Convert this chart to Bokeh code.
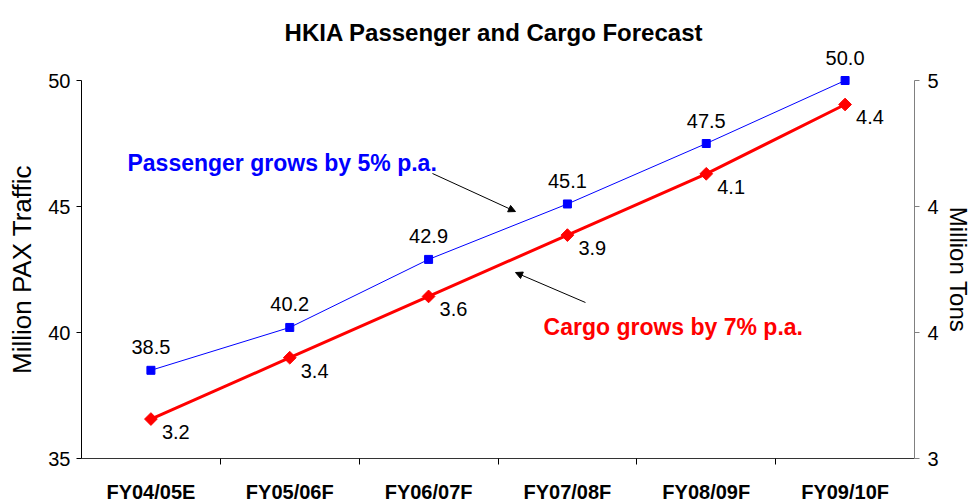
import numpy as np
from bokeh.plotting import figure
from bokeh.models import (Range1d, LinearAxis, FixedTicker, NumeralTickFormatter,
                          Arrow, NormalHead, Label, LabelSet, ColumnDataSource)
from bokeh.core.properties import value
from bokeh.embed import file_html
from bokeh.resources import INLINE

# ---- data ----
categories = ["FY04/05E", "FY05/06F", "FY06/07F", "FY07/08F", "FY08/09F", "FY09/10F"]
passenger = [38.5, 40.2, 42.9, 45.1, 47.5, 50.0]
cargo = [3.18, 3.41, 3.64, 3.87, 4.10, 4.36]
pax_ticks = [35, 40, 45, 50]
tons_ticks = [3, 11 / 3, 13 / 3, 5]
title_text = "HKIA Passenger and Cargo Forecast"
pax_note = "Passenger grows by 5% p.a."
cargo_note = "Cargo grows by 7% p.a."
left_title = "Million PAX Traffic"
right_title = "Million Tons"

FONT = "Liberation Sans"
x = [i + 0.5 for i in range(len(categories))]
boundaries = [i for i in range(1, len(categories))]
n = len(categories)

# axis spans
pax_lo, pax_hi = 35, 50
tons_lo, tons_hi = 3, 5
cargo_lo, cargo_hi = 3.032, 4.45

# layout (canvas pixels): where the axis spans sit inside the drawing
W, H = 971, 502
AX_L, AX_R = 81, 914      # x of first / last category boundary
AX_T, AX_B = 80, 458      # y of top / bottom of the value axes


def vrange(lo, hi):
    k = (hi - lo) / (AX_B - AX_T)
    return Range1d(lo - (H - AX_B) * k, hi + AX_T * k)


kx = n / (AX_R - AX_L)
p = figure(width=W, height=H, output_backend="svg", toolbar_location=None,
           x_range=Range1d(0 - AX_L * kx, n + (W - AX_R) * kx),
           y_range=vrange(pax_lo, pax_hi),
           x_axis_type=None, y_axis_type=None,
           min_border_left=0, min_border_right=0, min_border_top=0, min_border_bottom=0)
p.extra_y_ranges = {"cargo": vrange(cargo_lo, cargo_hi), "tons": vrange(tons_lo, tons_hi)}
p.outline_line_color = None
p.background_fill_color = "white"
p.border_fill_color = "white"
p.title.text = ""
p.title.visible = False

# title
p.add_layout(Label(x=n / 2, y=pax_hi, x_offset=-4, y_offset=48, text=title_text,
                   text_align="center", text_baseline="alphabetic", text_font=FONT,
                   text_font_size="24px", text_font_style="bold", text_color="black"))

# left axis
yl = LinearAxis(ticker=FixedTicker(ticks=pax_ticks), axis_label=left_title,
                bounds=(pax_lo, pax_hi), fixed_location=0)
yl.axis_label_text_font = FONT
yl.axis_label_text_font_size = "26px"
yl.axis_label_text_font_style = "normal"
yl.axis_label_text_color = "black"
yl.axis_label_standoff = 8
yl.major_label_text_font = FONT
yl.major_label_text_font_size = "20px"
yl.major_label_text_color = "black"
yl.major_label_standoff = 6
yl.major_tick_out = 5
yl.major_tick_in = 0
yl.minor_tick_line_color = None
yl.axis_line_color = "black"
yl.major_tick_line_color = "black"
p.add_layout(yl, "left")

# right axis
yr = LinearAxis(y_range_name="tons", ticker=FixedTicker(ticks=tons_ticks),
                formatter=NumeralTickFormatter(format="0"), axis_label=right_title,
                bounds=(tons_lo, tons_hi), fixed_location=n)
yr.axis_label_text_font = FONT
yr.axis_label_text_font_size = "24px"
yr.axis_label_text_font_style = "normal"
yr.axis_label_text_color = "black"
yr.axis_label_standoff = 3
yr.major_label_text_font = FONT
yr.major_label_text_font_size = "20px"
yr.major_label_text_color = "black"
yr.major_label_standoff = 8
yr.major_tick_out = 5
yr.major_tick_in = 0
yr.minor_tick_line_color = None
yr.axis_line_color = "#808080"
yr.major_tick_line_color = "#808080"
p.add_layout(yr, "right")

# bottom axis: ticks at category boundaries, category names centred
xb = LinearAxis(ticker=FixedTicker(ticks=x, minor_ticks=boundaries),
                bounds=(0, n), fixed_location=pax_lo)
xb.major_label_overrides = {xi: c for xi, c in zip(x, categories)}
xb.major_label_text_font = FONT
xb.major_label_text_font_size = "20px"
xb.major_label_text_font_style = "bold"
xb.major_label_text_color = "black"
xb.major_label_standoff = 16
xb.major_tick_line_color = None
xb.major_tick_out = 0
xb.major_tick_in = 0
xb.minor_tick_out = 6
xb.minor_tick_in = 0
xb.minor_tick_line_color = "black"
xb.axis_line_color = "#333333"
p.add_layout(xb, "below")

# series
p.line(x, passenger, color="#0000FF", line_width=1)
p.scatter(x, passenger, marker="square", size=8, color="#0000FF")
p.line(x, cargo, y_range_name="cargo", color="#FF0000", line_width=3)
p.scatter(x, cargo, y_range_name="cargo", marker="square", angle=np.pi / 4,
          size=9, color="#FF0000")

src_p = ColumnDataSource(dict(x=x, y=passenger, t=[f"{v:.1f}" for v in passenger]))
src_c = ColumnDataSource(dict(x=x, y=cargo, t=[f"{v:.1f}" for v in cargo]))
p.add_layout(LabelSet(x="x", y="y", text="t", source=src_p, text_align="center",
                      text_baseline="alphabetic", y_offset=16, text_font=value(FONT),
                      text_font_size="20px", text_color="black"))
p.add_layout(LabelSet(x="x", y="y", text="t", source=src_c, y_range_name="cargo",
                      text_align="left", text_baseline="alphabetic", x_offset=11,
                      y_offset=-20, text_font=value(FONT), text_font_size="20px",
                      text_color="black"))

# annotations
p.add_layout(Label(x=0.331, y=46.71, text=pax_note, text_font=FONT,
                   text_font_size="23px", text_font_style="bold", text_color="#0000FF",
                   text_baseline="alphabetic"))
p.add_layout(Label(x=3.328, y=40.2, text=cargo_note, text_font=FONT,
                   text_font_size="23px", text_font_style="bold", text_color="#FF0000",
                   text_baseline="alphabetic"))
p.add_layout(Arrow(end=NormalHead(size=7, fill_color="black", line_color="black", line_width=1),
                   x_start=2.528, y_start=46.31, x_end=3.126, y_end=44.80,
                   line_color="black", line_width=1))
p.add_layout(Arrow(end=NormalHead(size=7, fill_color="black", line_color="black", line_width=1),
                   x_start=3.630, y_start=41.19, x_end=3.126, y_end=42.38,
                   line_color="black", line_width=1))

open("out.html", "w").write(file_html(p, INLINE))
